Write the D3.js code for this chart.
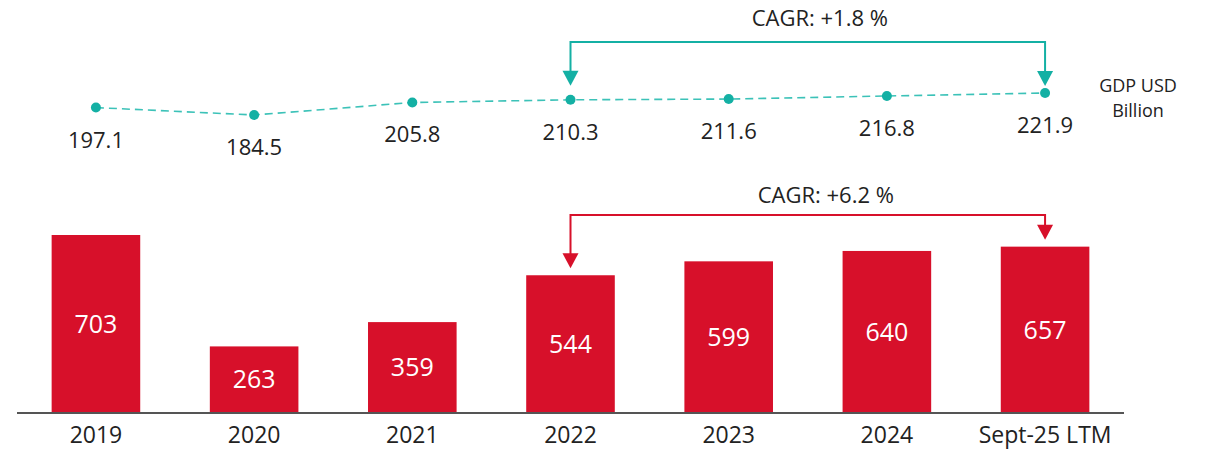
<!DOCTYPE html>
<html>
<head>
<meta charset="utf-8">
<script src="https://cdn.jsdelivr.net/npm/d3@7"></script>
<style>
  body { margin: 0; background: #fff; }
  svg { display: block; font-family: "Open Sans", sans-serif; }
</style>
</head>
<body>
<svg id="chart" width="1209" height="452"></svg>
<script>
// data
const categories = ['2019', '2020', '2021', '2022', '2023', '2024', 'Sept-25 LTM'];
const barValues = [703, 263, 359, 544, 599, 640, 657];
const gdpValues = [197.1, 184.5, 205.8, 210.3, 211.6, 216.8, 221.9];
const gdpLabel = ['GDP USD', 'Billion'];
const cagrGdp = 'CAGR: +1.8 %';
const cagrBar = 'CAGR:  +6.2 %';
const cagrFrom = '2022';
const cagrTo = 'Sept-25 LTM';

const red = '#d7102a';
const teal = '#14b0a4';
const textCol = '#222';

const svg = d3.select('#chart');

// x band scale shared by bars and line
const x = d3.scaleBand()
  .domain(categories)
  .range([20, 1121])
  .paddingInner(0.44)
  .paddingOuter(0.2);

// bars
const yBar = d3.scaleLinear().domain([0, 703]).range([413, 235]);

svg.append('g').selectAll('rect')
  .data(barValues)
  .enter().append('rect')
  .attr('x', (d, i) => x(categories[i]))
  .attr('width', x.bandwidth())
  .attr('y', d => yBar(d))
  .attr('height', d => yBar(0) - yBar(d))
  .attr('fill', red);

svg.append('g').selectAll('text')
  .data(barValues)
  .enter().append('text')
  .attr('x', (d, i) => x(categories[i]) + x.bandwidth() / 2)
  .attr('y', d => (yBar(d) + yBar(0)) / 2)
  .attr('dy', '0.35em')
  .attr('text-anchor', 'middle')
  .attr('fill', '#fff')
  .style('font-size', '25px')
  .text(d => d);

// baseline axis
const xAxis = d3.axisBottom(x).tickSize(0).tickPadding(14);
const axisG = svg.append('g')
  .attr('transform', `translate(0,${yBar(0)})`)
  .call(xAxis);
axisG.select('.domain')
  .attr('d', 'M17,0H1124')
  .attr('stroke', '#555')
  .attr('stroke-width', 2);
axisG.selectAll('text')
  .attr('fill', textCol)
  .style('font-size', '23px')
  .style('font-family', '"Open Sans", sans-serif');

// GDP line
const yGdp = d3.scaleLinear().domain([184.5, 221.9]).range([115, 93]);
const cx = c => x(c) + x.bandwidth() / 2;

const line = d3.line()
  .x((d, i) => cx(categories[i]))
  .y(d => yGdp(d));

svg.append('path')
  .datum(gdpValues)
  .attr('d', line)
  .attr('fill', 'none')
  .attr('stroke', '#3cc2b8')
  .attr('stroke-width', 1.6)
  .attr('stroke-dasharray', '8,5');

svg.append('g').selectAll('circle')
  .data(gdpValues)
  .enter().append('circle')
  .attr('cx', (d, i) => cx(categories[i]))
  .attr('cy', d => yGdp(d))
  .attr('r', 5)
  .attr('fill', teal);

svg.append('g').selectAll('text')
  .data(gdpValues)
  .enter().append('text')
  .attr('x', (d, i) => cx(categories[i]))
  .attr('y', d => yGdp(d) + 40)
  .attr('text-anchor', 'middle')
  .attr('fill', textCol)
  .style('font-size', '22px')
  .text(d => d.toFixed(1));

svg.append('text')
  .attr('x', 1138)
  .attr('text-anchor', 'middle')
  .attr('fill', textCol)
  .style('font-size', '18px')
  .selectAll('tspan')
  .data(gdpLabel)
  .enter().append('tspan')
  .attr('x', 1138)
  .attr('y', (d, i) => 92 + i * 25)
  .text(d => d);

// CAGR brackets
function bracket(color, topY, leftTip, rightTip, label, labelY, shift) {
  const x1 = cx(cagrFrom), x2 = cx(cagrTo);
  const g = svg.append('g');
  g.append('path')
    .attr('d', `M${x1},${leftTip - 14}V${topY}H${x2}V${rightTip - 14}`)
    .attr('fill', 'none')
    .attr('stroke', color)
    .attr('stroke-width', 2);
  [[x1, leftTip], [x2, rightTip]].forEach(([px, py]) => {
    g.append('path')
      .attr('d', `M${px - 8},${py - 15}L${px + 8},${py - 15}L${px},${py}Z`)
      .attr('fill', color);
  });
  g.append('text')
    .attr('x', (x1 + x2) / 2 + shift)
    .attr('y', labelY)
    .attr('dy', '0.35em')
    .attr('text-anchor', 'middle')
    .attr('fill', textCol)
    .style('font-size', '22px')
    .text(label);
}

bracket(teal, 42, yGdp(210.3) - 14, yGdp(221.9) - 7, cagrGdp, 18, 12);
bracket(red, 215, yBar(544) - 7, yBar(657) - 7, cagrBar, 195, 18);
</script>
</body>
</html>
